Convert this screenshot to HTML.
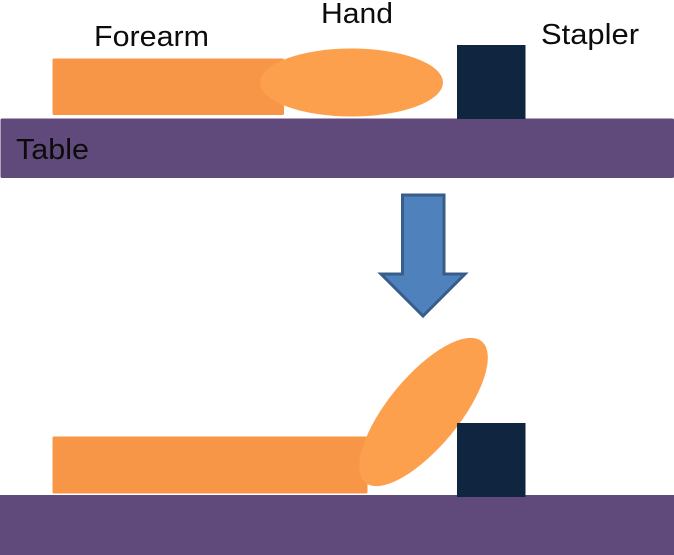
<!DOCTYPE html>
<html>
<head>
<meta charset="utf-8">
<style>
html,body{margin:0;padding:0;background:#fff;width:674px;height:555px;overflow:hidden}
svg{display:block;filter:blur(.35px)}
text{font-family:"Liberation Sans",sans-serif;font-size:29px;fill:#0c0c0c}
</style>
</head>
<body>
<svg width="674" height="555" viewBox="0 0 674 555" xmlns="http://www.w3.org/2000/svg">
<rect width="674" height="555" fill="#fff"/>
<!-- top -->
<rect x="52.5" y="58.5" width="231.5" height="56.5" rx="1.5" fill="#f79646"/>
<rect x="0.5" y="118.5" width="673.5" height="59.5" rx="1.5" fill="#604a7b"/>
<rect x="457" y="45" width="68.5" height="74" fill="#10253f"/>
<ellipse cx="351.5" cy="82.5" rx="91.5" ry="34" fill="#fca04e"/>
<text x="94" y="46" textLength="115" lengthAdjust="spacingAndGlyphs">Forearm</text>
<text x="321" y="23" textLength="72" lengthAdjust="spacingAndGlyphs">Hand</text>
<text x="541" y="44" textLength="98" lengthAdjust="spacingAndGlyphs">Stapler</text>
<text x="16" y="159" textLength="73" lengthAdjust="spacingAndGlyphs">Table</text>
<!-- arrow -->
<polygon points="402.5,195 444,195 444,274 465,274 423,316 381,274 402.5,274" fill="#4f81bd" stroke="#385d8a" stroke-width="3"/>
<!-- bottom -->
<rect x="52.5" y="436.5" width="315" height="57" rx="1.5" fill="#f79646"/>
<rect x="0" y="495" width="674" height="60" fill="#604a7b"/>
<ellipse cx="423.5" cy="412" rx="91.5" ry="35.5" transform="rotate(-50.5 423.5 412)" fill="#fca04e"/>
<rect x="457" y="423" width="68.5" height="74" fill="#10253f"/>
</svg>
</body>
</html>
